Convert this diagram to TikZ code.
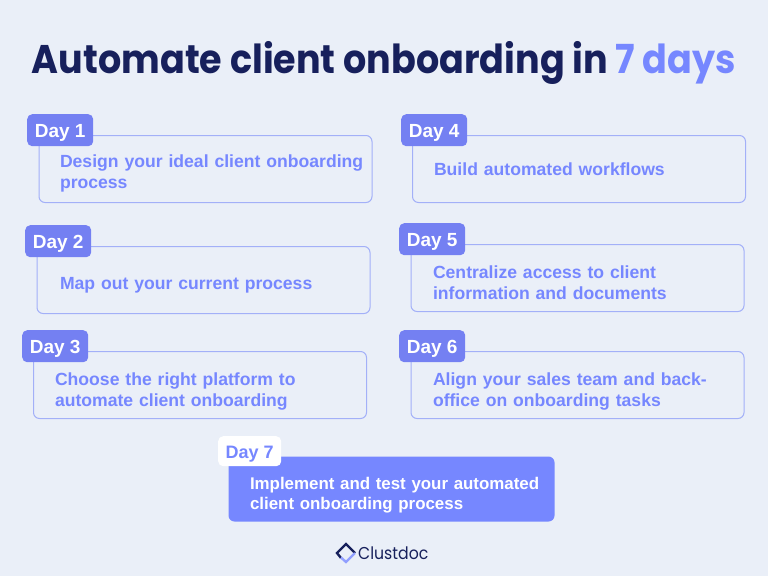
\documentclass[tikz,border=0pt]{standalone}
\usepackage{fontspec}
\setmainfont{Liberation Sans}
\newfontfamily\titlefont[FakeStretch=0.913]{Poppins}
\usetikzlibrary{positioning}
\definecolor{pagebg}{HTML}{EAEFF8}
\definecolor{navy}{HTML}{17205C}
\definecolor{periwinkle}{HTML}{7687FF}
\definecolor{tagblue}{HTML}{7480F2}
\definecolor{boxline}{HTML}{A3B0F8}
\newcommand{\boxtext}[3]{\hspace*{#1}\parbox{304pt}{\vspace*{#2}#3}}
\tikzset{
  daybox/.style={draw=boxline,line width=1pt,rounded corners=6pt,minimum height=67pt,text width=333pt,
    inner xsep=0pt,inner ysep=0pt,anchor=north west,align=left,text=periwinkle,font=\fontsize{17.6}{21}\selectfont\bfseries},
  daytag/.style={fill=tagblue,text=white,rounded corners=5pt,minimum width=66pt,minimum height=32pt,
    text height=14pt,text depth=0pt,inner sep=0pt,anchor=north west,font=\fontsize{19}{21}\selectfont\bfseries},
}
\begin{document}
\begin{tikzpicture}[x=1pt,y=-1pt]
        \fill[pagebg] (0,0) rectangle (768,576);
        \useasboundingbox (0,0) rectangle (768,576);
        % Title
        \node[anchor=base,text=navy,font=\fontsize{40}{44}\titlefont\bfseries] (title) at (384,73)
            {Automate client onboarding in \textcolor{periwinkle}{7 days}};
        % Left column
        \node[daybox] (box1) at (38.5,135) {\boxtext{21pt}{8pt}{Design your ideal client onboarding\\process}};
        \node[daytag] (tag1) at (27,114) {Day 1};
        \node[daybox] (box2) at (36.5,246) {\boxtext{23pt}{10pt}{Map out your current process}};
        \node[daytag] (tag2) at (25,225) {Day 2};
        \node[daybox] (box3) at (33,351) {\boxtext{21.5pt}{12pt}{Choose the right platform to\\automate client onboarding}};
        \node[daytag] (tag3) at (22,330) {Day 3};
        % Right column
        \node[daybox] (box4) at (412,135) {\boxtext{21.5pt}{0pt}{Build automated workflows}};
        \node[daytag] (tag4) at (401,114) {Day 4};
        \node[daybox] (box5) at (410.5,244) {\boxtext{22pt}{10pt}{Centralize access to client\\information and documents}};
        \node[daytag] (tag5) at (399,223) {Day 5};
        \node[daybox] (box6) at (410.5,351) {\boxtext{22pt}{12pt}{Align your sales team and back-\\office on onboarding tasks}};
        \node[daytag] (tag6) at (399,330) {Day 6};
        % Last day
        \node[daybox,draw=none,fill=periwinkle,text=white,text width=326pt,minimum height=65pt,
            font=\fontsize{16.9}{20.5}\selectfont\bfseries] (box7) at (228,456)
            {\boxtext{21.5pt}{12pt}{Implement and test your automated\\client onboarding process}};
        \node[daytag,fill=white,text=periwinkle,minimum width=63pt,minimum height=30pt,
            font=\fontsize{18}{21}\selectfont\bfseries] (tag7) at (218,436) {Day 7};
        % Logo
        \draw[navy,line width=2.4pt] (341,558) -- (337,553) -- (346,544) -- (355,553);
        \draw[periwinkle!80,line width=2.4pt] (341,557.5) -- (346,562) -- (355,553);
        \node[anchor=base west,inner sep=0pt,text=navy,font=\fontsize{17.2}{20}\titlefont] (logo) at (358,559) {Clustdoc};
\end{tikzpicture}
\end{document}
